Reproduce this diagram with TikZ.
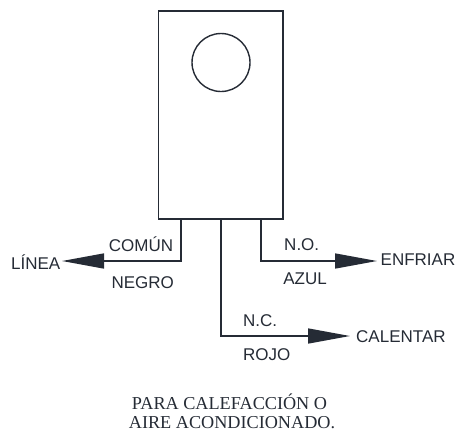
\documentclass[tikz,border=0pt]{standalone}
\usepackage{fontspec}
\setmainfont{Liberation Serif}
\setsansfont{Liberation Sans}
\usepackage{tikz}
\usetikzlibrary{arrows.meta,calc}
\definecolor{ink}{HTML}{252B35}
\tikzset{
    wirelabel/.style={anchor=base,inner sep=0pt,text=ink,font=\sffamily\fontsize{17}{20}\selectfont},
    endlabel/.style={wirelabel,anchor=base west},
    wire/.style={draw=ink,line width=1.5pt,-{Triangle[length=42pt,width=15pt]}},
    note/.style={anchor=base,inner sep=0pt,text=ink,font=\fontsize{18.2}{20}\selectfont}
}

\begin{document}
\begin{tikzpicture}[x=1pt,y=-1pt]
    \useasboundingbox (0,0) rectangle (457,432);

    \node (relay) [draw=ink,line width=1.7pt,inner sep=0pt,minimum width=124.5pt,minimum height=208pt] at (220.75,115) {};
    \node (dial) [draw=ink,line width=1.4pt,circle,inner sep=0pt,minimum size=58pt] at (221,62.5) {};

    \coordinate (comun) at ($(relay.south)+(-40,0)$);
    \coordinate (nc) at ($(relay.south)+(0,0)$);
    \coordinate (no) at ($(relay.south)+(40,0)$);

    \coordinate (lineatip) at (62,261);
    \coordinate (enfriartip) at (377,261);
    \coordinate (calentartip) at (350,336);

    % las tres salidas
    \draw[wire] (comun) |- (lineatip);
    \draw[wire] (no) |- (enfriartip);
    \draw[wire] (nc) |- (calentartip);

    \node (linea) [endlabel] at (11,269) {LÍNEA};
    \node (enfriar) [endlabel] at (380.5,265) {ENFRIAR};
    \node (calentar) [endlabel] at (356,342.7) {CALENTAR};

    \node (comunlabel) [wirelabel] at (141,251.7) {COMÚN};
    \node (negro) [wirelabel] at (142.7,288) {NEGRO};
    \node (nolabel) [wirelabel] at (301.7,250) {N.O.};
    \node (azul) [wirelabel] at (305,284) {AZUL};
    \node (nclabel) [wirelabel] at (260,326) {N.C.};
    \node (rojo) [wirelabel] at (266.7,360) {ROJO};

    \node (para) [note] at (229.5,409) {PARA CALEFACCIÓN O};
    \node (aire) [note] at (232,428.5) {AIRE ACONDICIONADO.};
\end{tikzpicture}
\end{document}
